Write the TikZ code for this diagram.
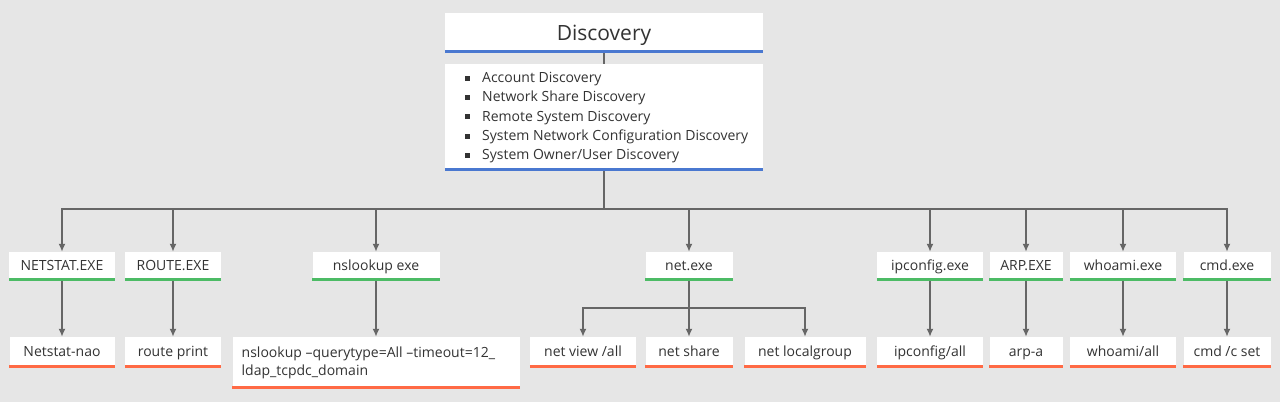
\documentclass[tikz,border=0pt]{standalone}
\usepackage{fontspec}
\setmainfont{Open Sans}
\usetikzlibrary{arrows.meta}
\definecolor{bg}{HTML}{E6E6E6}
\definecolor{bl}{HTML}{4A78D0}
\definecolor{gr}{HTML}{4CBB65}
\definecolor{rd}{HTML}{FF6A45}
\definecolor{ln}{HTML}{666666}
\definecolor{tx}{HTML}{333333}
\newcommand{\sqb}{\makebox[17pt][l]{\raisebox{2pt}{\rule{5pt}{5pt}}}}
\begin{document}
\begin{tikzpicture}[x=1pt,y=-1pt,
  box/.style={fill=white, inner sep=0pt, text=tx, font=\fontsize{14}{17}\selectfont, text height=10.5pt, text depth=2.5pt},
  txt/.style={inner sep=0pt, text=tx, font=\fontsize{14}{17}\selectfont},
  arr/.style={draw=ln, line width=2pt, -{Latex[length=8pt,width=7pt]}},
  conn/.style={draw=ln, line width=2pt}]
\fill[bg] (0,0) rectangle (1280,402);
\useasboundingbox (0,0) rectangle (1280,402);
% top
\node[box, minimum width=318pt, minimum height=40pt, font=\fontsize{21}{24}\selectfont, text height=15pt, text depth=1pt] (title) at (604,33) {Discovery};
\node[box, minimum width=318pt, minimum height=107pt] (list) at (604,117.5) {};
\node[txt, anchor=base west] (i1) at (465,82.5) {\sqb Account Discovery};
\node[txt, anchor=base west] (i2) at (465,101.8) {\sqb Network Share Discovery};
\node[txt, anchor=base west] (i3) at (465,121.1) {\sqb Remote System Discovery};
\node[txt, anchor=base west] (i4) at (465,140.5) {\sqb System Network Configuration Discovery};
\node[txt, anchor=base west] (i5) at (465,159.8) {\sqb System Owner/User Discovery};
\foreach \n in {title,list}
  \draw[bl, line width=3pt] ([yshift=1.5pt]\n.south west) -- ([yshift=1.5pt]\n.south east);
\draw[conn] (title.south) -- (list.north);
% level 1
\node[box, minimum width=106pt, minimum height=29pt] (a1) at (62,266.5) {NETSTAT.EXE};
\node[box, minimum width=96pt, minimum height=29pt] (b1) at (173,266.5) {ROUTE.EXE};
\node[box, minimum width=127pt, minimum height=29pt] (c1) at (376,266.5) {nslookup exe};
\node[box, minimum width=87pt, minimum height=29pt] (d1) at (689,266.5) {net.exe};
\node[box, minimum width=106pt, minimum height=29pt] (e1) at (930,266.5) {ipconfig.exe};
\node[box, minimum width=73pt, minimum height=29pt] (f1) at (1026,266.5) {ARP.EXE};
\node[box, minimum width=106pt, minimum height=29pt] (g1) at (1123,266.5) {whoami.exe};
\node[box, minimum width=87pt, minimum height=29pt] (h1) at (1227,266.5) {cmd.exe};
\foreach \n in {a1,b1,c1,d1,e1,f1,g1,h1}
  \draw[gr, line width=3pt] ([yshift=1.5pt]\n.south west) -- ([yshift=1.5pt]\n.south east);
% level 2
\node[box, minimum width=105pt, minimum height=31pt] (a2) at (62,352.5) {Netstat-nao};
\node[box, minimum width=96pt, minimum height=31pt] (b2) at (173,352.5) {route print};
\node[box, minimum width=287pt, minimum height=52pt] (c2) at (376,363) {};
\node[txt, anchor=base west] (c2a) at (241.5,357) {nslookup –querytype=All –timeout=12\_};
\node[txt, anchor=base west] (c2b) at (241.5,375.5) {ldap\_tcpdc\_domain};
\node[box, minimum width=106pt, minimum height=31pt] (d2) at (583,352.5) {net view /all};
\node[box, minimum width=87pt, minimum height=31pt] (d3) at (689,352.5) {net share};
\node[box, minimum width=121pt, minimum height=31pt] (d4) at (805,352.5) {net localgroup};
\node[box, minimum width=106pt, minimum height=31pt] (e2) at (930,352.5) {ipconfig/all};
\node[box, minimum width=73pt, minimum height=31pt] (f2) at (1026,352.5) {arp-a};
\node[box, minimum width=106pt, minimum height=31pt] (g2) at (1123,352.5) {whoami/all};
\node[box, minimum width=87pt, minimum height=31pt] (h2) at (1227,352.5) {cmd /c set};
\foreach \n in {a2,b2,c2,d2,d3,d4,e2,f2,g2,h2}
  \draw[rd, line width=3pt] ([yshift=1.5pt]\n.south west) -- ([yshift=1.5pt]\n.south east);
% connectors
\coordinate (bus) at (604,209);
\draw[conn] (list.south) -- (bus);
\foreach \n in {a1,b1,c1,d1,e1,f1,g1,h1}
  \draw[arr] (bus) -| (\n.north);
\foreach \p/\c in {a1/a2,b1/b2,c1/c2,e1/e2,f1/f2,g1/g2,h1/h2}
  \draw[arr] (\p.south) -- (\c.north);
\coordinate (nbus) at (689,308);
\draw[conn] (d1.south) -- (nbus);
\foreach \n in {d2,d3,d4}
  \draw[arr] (nbus) -| (\n.north);
\end{tikzpicture}
\end{document}
